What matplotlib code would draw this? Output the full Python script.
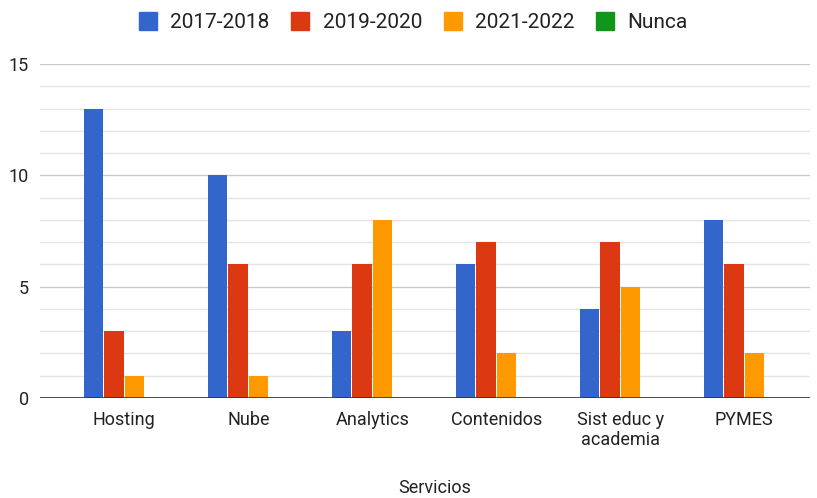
import matplotlib.pyplot as plt
from matplotlib.lines import Line2D
from matplotlib.transforms import blended_transform_factory
import numpy as np

plt.rcParams['font.family'] = ['Roboto', 'DejaVu Sans']

# data
categories = ['Hosting', 'Nube', 'Analytics', 'Contenidos', 'Sist educ y\nacademia', 'PYMES']
series_names = ['2017-2018', '2019-2020', '2021-2022', 'Nunca']
v_2017_2018 = [13, 10, 3, 6, 4, 8]
v_2019_2020 = [3, 6, 6, 7, 7, 6]
v_2021_2022 = [1, 1, 8, 2, 5, 2]
v_nunca = [0, 0, 0, 0, 0, 0]
colors = ['#3366cc', '#dc3912', '#ff9900', '#109618']

values = [v_2017_2018, v_2019_2020, v_2021_2022, v_nunca]
text_color = '#222222'

fig = plt.figure(figsize=(8.17, 4.98), dpi=100)
ax = fig.add_axes([40/817, 100/498, 770/817, 334/498])

x = np.arange(len(categories))
step = 0.166
width = 0.158
for i, vals in enumerate(values):
    ax.bar(x + (i - 1.5)*step, vals, width, color=colors[i], zorder=3)

# axes limits and grid
ax.set_xlim(-0.68, 5.53)
ax.set_ylim(0, 15)
ax.set_yticks([0, 5, 10, 15])
ax.set_yticks(np.arange(0, 16, 1), minor=True)
ax.grid(axis='y', which='major', color='#cccccc', lw=1, zorder=0)
ax.grid(axis='y', which='minor', color='#e4e4e4', lw=1, zorder=0)
ax.axhline(0, color='#333333', lw=1.2, zorder=4)
for s in ax.spines.values():
    s.set_visible(False)

ax.set_xticks(x)
ax.set_xticklabels(categories, fontsize=13, color=text_color, linespacing=1.15)
ax.tick_params(axis='x', length=0, pad=9)
ax.tick_params(axis='y', which='both', length=0, pad=8, labelsize=13, labelcolor=text_color)

# axis title centred under the categories
trans = blended_transform_factory(ax.transData, fig.transFigure)
ax.text(2.5, 10/498, 'Servicios', transform=trans, ha='center', va='center',
        fontsize=13, color=text_color)

# legend with square markers
handles = [Line2D([], [], marker='s', ls='none', markersize=13, markerfacecolor=c,
                  markeredgecolor=c) for c in colors]
fig.legend(handles, series_names, loc='center', bbox_to_anchor=(0.506, 1 - 23/498),
           ncol=4, frameon=False, fontsize=15, handlelength=0.87, handletextpad=0.63,
           columnspacing=1.04, labelcolor=text_color)

fig.savefig('out.png', dpi=100)
